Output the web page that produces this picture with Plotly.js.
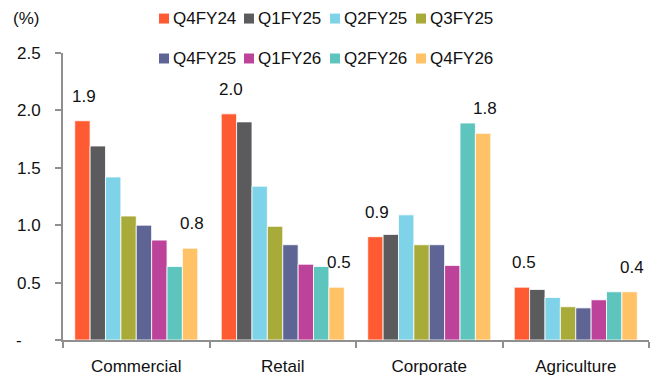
<!DOCTYPE html>
<html>
<head>
<meta charset="utf-8">
<script src="https://cdn.plot.ly/plotly-3.0.1.min.js"></script>
<style>html,body{margin:0;padding:0;background:#fff;}#chart{width:657px;height:383px;}</style>
</head>
<body>
<div id="chart"></div>
<script>
const categories = ["Commercial", "Retail", "Corporate", "Agriculture"];
const seriesNames = ["Q4FY24", "Q1FY25", "Q2FY25", "Q3FY25", "Q4FY25", "Q1FY26", "Q2FY26", "Q4FY26"];
const Q4FY24 = [1.91, 1.97, 0.90, 0.46];
const Q1FY25 = [1.69, 1.90, 0.92, 0.44];
const Q2FY25 = [1.42, 1.34, 1.09, 0.37];
const Q3FY25 = [1.08, 0.99, 0.83, 0.29];
const Q4FY25 = [1.00, 0.83, 0.83, 0.28];
const Q1FY26 = [0.87, 0.66, 0.65, 0.35];
const Q2FY26 = [0.64, 0.64, 1.89, 0.42];
const Q4FY26 = [0.80, 0.46, 1.80, 0.42];
const yTickVals = [0, 0.5, 1.0, 1.5, 2.0, 2.5];
const yTickText = ["-\u2007\u2007", "0.5", "1.0", "1.5", "2.0", "2.5"];

const seriesValues = [Q4FY24, Q1FY25, Q2FY25, Q3FY25, Q4FY25, Q1FY26, Q2FY26, Q4FY26];
const colors = ["#FF5B33", "#5B5B5D", "#7ED3E8", "#A8AA3A", "#5E6595", "#BC4399", "#5EC5BE", "#FFC266"];
const FONT = "Liberation Sans, Arial, sans-serif";
const TXT = "#111";

const traces = seriesNames.map((name, i) => ({
  type: "bar",
  name: name,
  x: categories,
  y: seriesValues[i],
  marker: {color: colors[i], line: {color: "#ffffff", width: 0.8}},
  showlegend: false,
  hoverinfo: "skip"
}));

// plot geometry
const W = 657, H = 383;
const margin = {l: 63, r: 8, t: 52.5, b: 43, autoexpand: false};
const plotW = W - margin.l - margin.r;
const plotH = H - margin.t - margin.b;
const px2x = px => (px - margin.l) / plotW;
const py2y = py => (H - margin.b - py) / plotH;
const catW = plotW / categories.length;
const bargap = 0.16;
const barW = catW * (1 - bargap) / seriesNames.length;

const annotations = [];
const shapes = [];
// value labels on first and last series
[0, seriesNames.length - 1].forEach(si => {
  const offset = (si - (seriesNames.length - 1) / 2) * barW;
  categories.forEach((c, ci) => {
    const v = seriesValues[si][ci];
    annotations.push({
      x: c, y: v, xref: "x", yref: "y",
      text: v.toFixed(1), showarrow: false,
      xanchor: "center", yanchor: "bottom",
      xshift: offset + 2, yshift: 13,
      font: {family: FONT, size: 17, color: TXT}
    });
  });
});
// unit label
annotations.push({
  xref: "paper", yref: "paper", x: px2x(11), y: py2y(18),
  xanchor: "left", yanchor: "middle",
  text: "(%)", showarrow: false,
  font: {family: FONT, size: 17, color: TXT}
});
// legend (two rows of four)
const legendCols = [159, 244, 330, 416];
const legendRows = [18, 58];
seriesNames.forEach((name, i) => {
  const cx = legendCols[i % 4];
  const cy = legendRows[Math.floor(i / 4)];
  shapes.push({
    type: "rect", xref: "paper", yref: "paper",
    x0: px2x(cx), x1: px2x(cx + 10), y0: py2y(cy - 5), y1: py2y(cy + 5),
    fillcolor: colors[i], line: {width: 0}
  });
  annotations.push({
    xref: "paper", yref: "paper", x: px2x(cx + 12), y: py2y(cy),
    xanchor: "left", yanchor: "middle",
    text: name, showarrow: false,
    font: {family: FONT, size: 17, color: TXT}
  });
});

const layout = {
  width: W, height: H,
  margin: margin,
  paper_bgcolor: "#fff", plot_bgcolor: "#fff",
  font: {family: FONT, size: 17, color: TXT},
  barmode: "group",
  bargap: bargap,
  bargroupgap: 0,
  showlegend: false,
  xaxis: {
    type: "category",
    showline: true, linecolor: "#8f8f8f", linewidth: 2,
    ticks: "outside", ticklen: 6, tickcolor: "#8f8f8f", tickwidth: 2,
    tickson: "boundaries",
    ticklabelstandoff: 10,
    tickfont: {family: FONT, size: 17, color: TXT},
    showgrid: false, zeroline: false, fixedrange: true
  },
  yaxis: {
    range: [0, 2.5],
    tickvals: yTickVals, ticktext: yTickText,
    showline: true, linecolor: "#8f8f8f", linewidth: 2,
    ticks: "outside", ticklen: 6, tickcolor: "#8f8f8f", tickwidth: 2,
    ticklabelstandoff: 11,
    tickfont: {family: FONT, size: 17, color: TXT},
    showgrid: false, zeroline: false, fixedrange: true
  },
  shapes: shapes,
  annotations: annotations
};

Plotly.newPlot("chart", traces, layout, {displayModeBar: false, staticPlot: true});
</script>
</body>
</html>
